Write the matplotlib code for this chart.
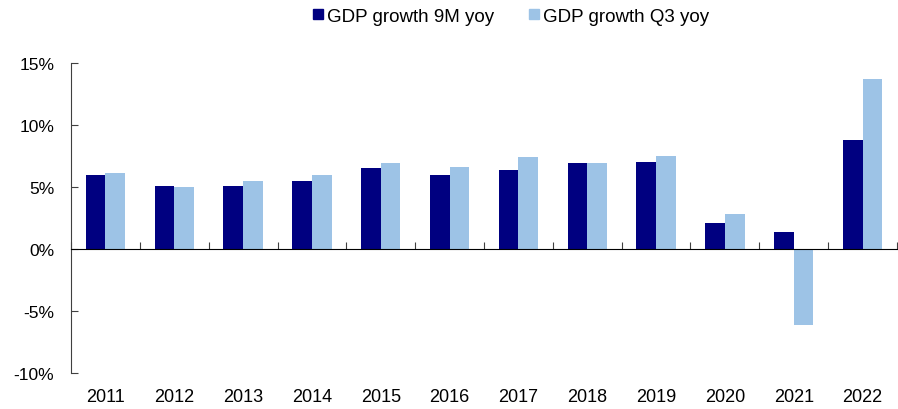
import matplotlib.pyplot as plt
import numpy as np
from matplotlib.lines import Line2D

plt.rcParams['font.family'] = ['Liberation Sans', 'DejaVu Sans']

# 年份與數據 (%)
years = ['2011', '2012', '2013', '2014', '2015', '2016',
         '2017', '2018', '2019', '2020', '2021', '2022']
growth_9m = [6.0, 5.1, 5.1, 5.5, 6.5, 6.0, 6.4, 6.9, 7.0, 2.1, 1.4, 8.8]
growth_q3 = [6.1, 5.0, 5.5, 6.0, 6.9, 6.6, 7.4, 6.9, 7.5, 2.8, -6.1, 13.7]
series_names = ['GDP growth 9M yoy', 'GDP growth Q3 yoy']
y_ticks = [-10, -5, 0, 5, 10, 15]

dark = '#000080'
light = '#9DC3E6'

fig = plt.figure(figsize=(8.98, 4.10), dpi=100)
ax = fig.add_axes([71 / 898, 36 / 410, 826 / 898, 310 / 410])

x = np.arange(len(years))
w = 0.285
ax.bar(x - w / 2, growth_9m, width=w, color=dark)
ax.bar(x + w / 2, growth_q3, width=w, color=light)

ax.set_xlim(-0.5, len(years) - 0.5)
ax.set_ylim(-10, 15)

# 座標軸樣式
ax.spines['top'].set_visible(False)
ax.spines['right'].set_visible(False)
ax.spines['bottom'].set_position(('data', 0))
ax.spines['left'].set_color('#404040')
ax.spines['bottom'].set_color('black')

ax.set_xticks(np.arange(-0.5, len(years), 1.0))
ax.set_xticklabels([])
ax.tick_params(axis='x', direction='in', length=5, color='#404040')

ax.set_yticks(y_ticks)
ax.set_yticklabels([f'{v}%' for v in y_ticks], fontsize=12.5)
ax.tick_params(axis='y', direction='in', length=5, pad=12, color='#404040')

# 年份標籤放在圖表底部
for i, yr in enumerate(years):
    ax.text(i, -0.077, yr, transform=ax.get_xaxis_transform(),
            ha='center', va='center', fontsize=13)

# 圖例 (方塊標記)
handles = [Line2D([], [], linestyle='none', marker='s', markersize=7.2,
                  markerfacecolor=c, markeredgecolor=c) for c in (dark, light)]
fig.legend(handles, series_names, loc='center', ncol=2,
           bbox_to_anchor=(511 / 898, 1 - 17 / 410), frameon=False,
           fontsize=13.5, handlelength=0.55, handletextpad=0.2,
           columnspacing=1.9)

fig.savefig('out.png', dpi=100)
